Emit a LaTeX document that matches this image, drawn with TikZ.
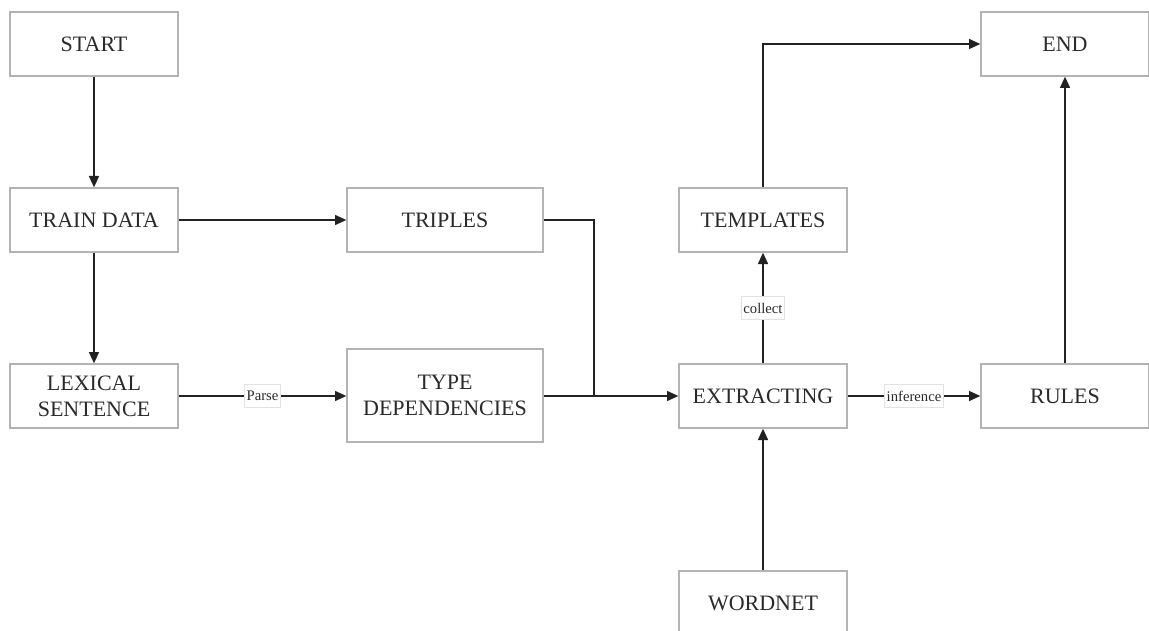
\documentclass[tikz,border=0pt]{standalone}
\usepackage{fontspec}
\setmainfont{Liberation Serif}
\usetikzlibrary{arrows.meta}
\definecolor{boxline}{HTML}{B4B4B4}
\definecolor{lineink}{HTML}{222222}
\definecolor{txt}{HTML}{2A2A2A}
\definecolor{lblline}{HTML}{E2E2E2}
\tikzset{
  stepbox/.style={draw=boxline, line width=1pt, fill=white, text=txt,
    minimum width=126pt, minimum height=48pt, inner sep=0pt, align=center,
    font=\fontsize{16.5}{19.5}\selectfont},
  widebox/.style={stepbox, minimum width=147pt},
  conn/.style={draw=lineink, line width=1.1pt, -{Triangle[length=8.5pt,width=7.5pt]}},
  plain/.style={draw=lineink, line width=1.1pt},
  lbl/.style={draw=lblline, line width=0.5pt, fill=white, text=txt,
    font=\fontsize{11}{12}\selectfont, inner xsep=1.5pt, inner ysep=0pt,
    minimum height=17pt}
}
\begin{document}
\begin{tikzpicture}[x=0.75pt,y=-0.75pt]
\clip (0,0) rectangle (1149,631);
\fill[white] (0,0) rectangle (1149,631);
\node[stepbox] (start) at (94,44) {START};
\node[stepbox] (train) at (94,220) {TRAIN DATA};
\node[stepbox] (lex) at (94,396) {LEXICAL\\SENTENCE};
\node[widebox] (triples) at (445,220) {TRIPLES};
\node[widebox, minimum height=69.75pt] (typedep) at (445,395.5) {TYPE\\DEPENDENCIES};
\node[stepbox] (templ) at (763,220) {TEMPLATES};
\node[stepbox] (extr) at (763,396) {EXTRACTING};
\node[stepbox] (wordnet) at (763,603) {WORDNET};
\node[stepbox] (end) at (1065,44) {END};
\node[stepbox] (rules) at (1065,396) {RULES};
\coordinate (merge) at (594,396);

\draw[conn] (start) -- (train);
\draw[conn] (train) -- (lex);
\draw[conn] (train) -- (triples);
\draw[conn] (lex.east) -- node[lbl] {Parse} (typedep.west |- lex.east);
\draw[plain] (triples.east) -| (merge);
\draw[conn] (typedep.east |- extr.west) -- (extr.west);
\draw[conn] (extr) -- node[lbl] {collect} (templ);
\draw[conn] (templ.north) |- (end.west);
\draw[conn] (extr) -- node[lbl] {inference} (rules);
\draw[conn] (rules) -- (end);
\draw[conn] (wordnet) -- (extr);
\end{tikzpicture}
\end{document}
